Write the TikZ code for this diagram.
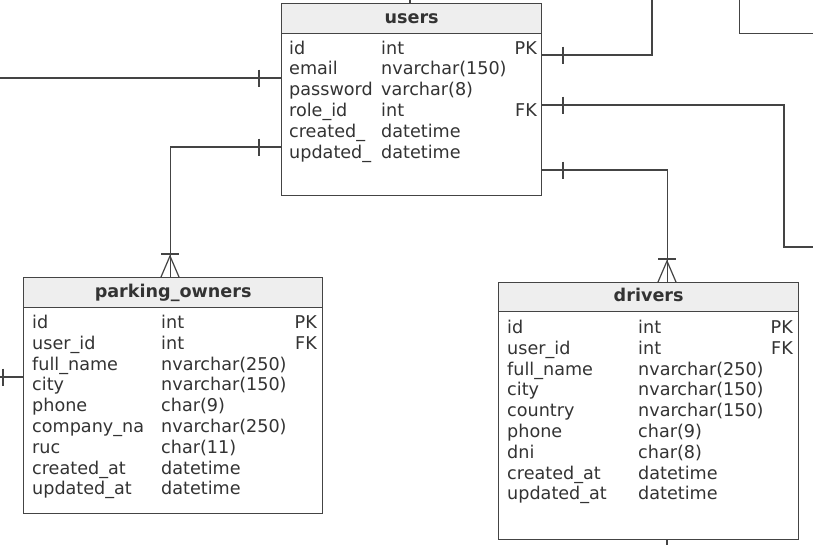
\documentclass[tikz,border=0pt]{standalone}
\usepackage{fontspec}
\setmainfont{DejaVu Sans}
\usepackage{tikz}

\definecolor{linegray}{HTML}{444444}
\definecolor{headgray}{HTML}{EEEEEE}
\definecolor{textgray}{HTML}{333333}

\begin{document}
\begin{tikzpicture}[x=1pt, y=-1pt,
	table/.style={draw=linegray, line width=1.3pt, fill=white, anchor=north west, inner sep=0pt},
	head/.style={table, fill=headgray, text=textgray, font=\fontsize{17.6}{20}\selectfont\bfseries, text height=13pt, text depth=4pt},
	field/.style={anchor=base west, inner sep=0pt, text=textgray, font=\fontsize{17.6}{20}\selectfont},
	key/.style={field, anchor=base east},
	rel/.style={draw=linegray, line width=1.2pt}]
	\useasboundingbox (0,0) rectangle (813,544);
	\clip (0,0) rectangle (813,544);

	% tables
	\node[table, anchor=south west, minimum width=120pt, minimum height=80pt] (roles) at (739,34) {};
	\node[table, minimum width=260pt, minimum height=192pt] (users) at (281,3) {};
	\node[head, minimum width=260pt, minimum height=30pt] (users-head) at (281,3) {users};
	\node[table, minimum width=299pt, minimum height=236pt] (owners) at (23,277) {};
	\node[head, minimum width=299pt, minimum height=30pt] (owners-head) at (23,277) {parking\_owners};
	\node[table, minimum width=300pt, minimum height=257pt] (drivers) at (498,282) {};
	\node[head, minimum width=300pt, minimum height=29pt] (drivers-head) at (498,282) {drivers};

	% fields
	\foreach \n/\t [count=\i] in {id/int, email/nvarchar(150), password/varchar(8), role\_id/int, created\_/datetime, updated\_/datetime}
	{
		\node[field] (users-n\i) at (289, {54+20.8*(\i-1)}) {\n};
		\node[field] (users-t\i) at (381, {54+20.8*(\i-1)}) {\t};
	}
	\node[key] (users-pk) at (537, 54) {PK};
	\node[key] (users-fk) at (537, 116.4) {FK};

	\foreach \n/\t [count=\i] in {id/int, user\_id/int, full\_name/nvarchar(250), city/nvarchar(150), phone/char(9), company\_na/nvarchar(250), ruc/char(11), created\_at/datetime, updated\_at/datetime}
	{
		\node[field] (owners-n\i) at (32, {328.5+20.8*(\i-1)}) {\n};
		\node[field] (owners-t\i) at (161, {328.5+20.8*(\i-1)}) {\t};
	}
	\node[key] (owners-pk) at (317, 328.5) {PK};
	\node[key] (owners-fk) at (317, 349.3) {FK};

	\foreach \n/\t [count=\i] in {id/int, user\_id/int, full\_name/nvarchar(250), city/nvarchar(150), country/nvarchar(150), phone/char(9), dni/char(8), created\_at/datetime, updated\_at/datetime}
	{
		\node[field] (drivers-n\i) at (507, {333.5+20.8*(\i-1)}) {\n};
		\node[field] (drivers-t\i) at (638, {333.5+20.8*(\i-1)}) {\t};
	}
	\node[key] (drivers-pk) at (793, 333.5) {PK};
	\node[key] (drivers-fk) at (793, 354.3) {FK};

	% loose ends
	\coordinate (out-left) at (-5,78);
	\coordinate (out-top) at (410,-5);
	\coordinate (out-pk) at (652,-5);
	\coordinate (out-fk) at (820,247);
	\coordinate (out-owners) at (-5,377);
	\coordinate (out-drivers) at (667,550);

	% relations
	\draw[rel] (users.west |- out-left) -- (out-left);
	\draw[rel] (users.north -| out-top) -- (out-top);
	\draw[rel] (users.east |- 0,55) -| (out-pk);
	\draw[rel] (users.east |- 0,105) -| (784,247) -- (out-fk);
	\draw[rel] (users.west |- 0,147) -| ([xshift=-2.5pt]owners.north);
	\draw[rel] (users.east |- 0,170) -| ([xshift=19pt]drivers.north);
	\draw[rel] (owners.west |- out-owners) -- (out-owners);
	\draw[rel] (drivers.south -| out-drivers) -- (out-drivers);

	% one
	\foreach \x/\y in {259/78, 259/147, 563/55, 563/105, 563/170, 3/377}
		\draw[rel] (\x,\y-8.5) -- (\x,\y+8.5);

	% many
	\foreach \x/\y in {170/277, 667/282}
	{
		\draw[rel] (\x-9,\y-23) -- (\x+9,\y-23);
		\draw[rel] (\x-9,\y) -- (\x,\y-21) -- (\x+9,\y);
	}
\end{tikzpicture}
\end{document}
